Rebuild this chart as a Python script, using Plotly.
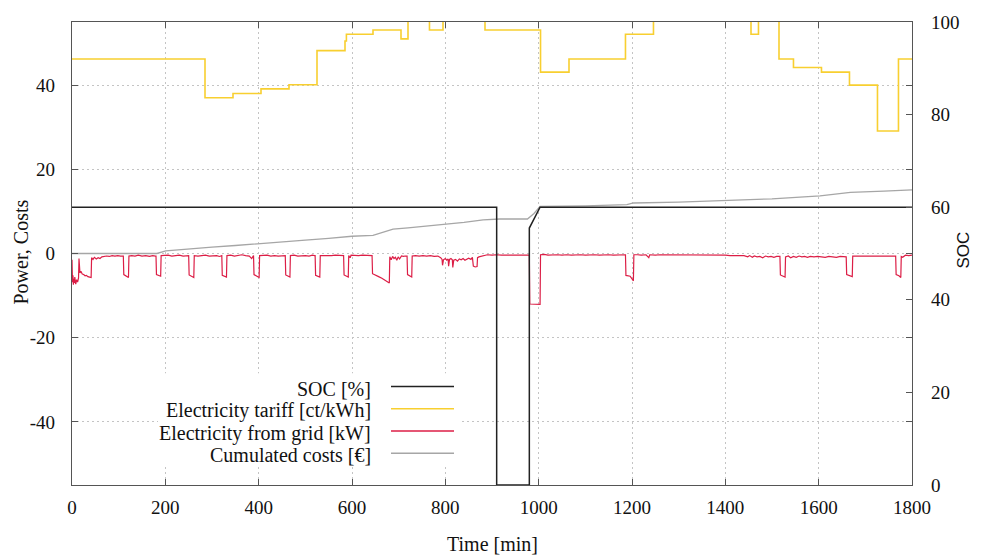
import plotly.graph_objects as go

# ---------------- data ----------------
# SOC [%] (right axis)
soc_x = [0, 910, 910, 980, 980, 1003, 1800]
soc_y = [60, 60, 0, 0, 55.5, 60, 60]

# Electricity tariff [ct/kWh] (step function, value holds until next x)
tariff_x = [0, 285, 345, 405, 465, 525, 585, 588, 645, 705, 720, 766, 795, 885,
            1004, 1065, 1186, 1246, 1455, 1471, 1515, 1546, 1606, 1666, 1726, 1771, 1800]
tariff_y = [46.2, 37.0, 38.0, 39.1, 40.1, 48.2, 50.5, 52.1, 53.1, 51.0, 58.0, 53.1, 58.0, 53.1,
            43.1, 46.2, 52.1, 58.0, 52.1, 58.0, 46.2, 44.2, 43.1, 40.0, 29.1, 46.2, 46.2]

# Electricity from grid [kW]
grid_x = [0, 1, 2, 3, 4, 5, 6, 8, 10, 12, 14, 15, 16, 17, 19, 22, 25, 28, 31, 34, 38, 41, 42,
          45, 48, 52, 56, 60, 64, 68, 74, 80, 86, 92, 98, 104, 109,
          110, 111, 116, 121, 122,
          128, 135, 142, 150, 158, 166, 173, 179,
          180, 181, 186, 190, 191,
          198, 206, 214, 222, 230, 238, 245, 249,
          250, 251, 256, 261, 262,
          270, 278, 286, 294, 302, 310, 316, 320,
          321, 322, 327, 331, 332,
          340, 348, 356, 364, 372, 380, 385, 388,
          389, 390, 396, 401, 402,
          410, 418, 426, 434, 442, 450, 456,
          457, 458, 463, 467, 468,
          476, 484, 492, 500, 508, 515, 520,
          521, 522, 527, 531, 532,
          540, 548, 556, 564, 572, 578, 581,
          582, 583, 588, 592, 593,
          596, 598, 606, 614, 622, 630, 638, 642,
          643, 644, 650, 657, 664, 670, 676, 680, 681,
          684, 687, 690, 693, 696, 699, 702, 706, 710, 714, 717,
          718, 719, 724, 728, 729,
          736, 744, 752, 760, 768, 776, 784, 790,
          793, 794, 796, 800, 803, 806, 807, 809, 812, 815, 816, 818, 822, 826, 830, 834, 838,
          842, 846, 850, 855, 858, 860, 864, 868, 869, 872, 876, 880,
          890, 900, 910, 920, 930, 940, 950, 960, 970, 980,
          981, 1003, 1004,
          1012, 1020, 1030, 1040, 1050, 1060, 1070, 1080, 1090, 1100, 1110, 1120, 1130, 1140,
          1150, 1160, 1170, 1180, 1186,
          1187, 1196, 1203, 1204,
          1212, 1220, 1230, 1236, 1238, 1250, 1260, 1270, 1280, 1290, 1300, 1310, 1320, 1330,
          1340, 1350, 1360, 1370, 1380, 1390, 1400, 1410, 1420, 1430, 1440, 1448, 1452, 1458,
          1462, 1468, 1474, 1480, 1486, 1492, 1498, 1504, 1510, 1517,
          1518, 1524, 1528, 1529,
          1535, 1540, 1546, 1552, 1558, 1564, 1570, 1576, 1582, 1590, 1598, 1606, 1614, 1622,
          1630, 1638, 1646, 1652, 1659,
          1660, 1666, 1672, 1673,
          1680, 1690, 1700, 1710, 1720, 1730, 1740, 1750, 1758, 1765,
          1766, 1772, 1776, 1777, 1780, 1786, 1793, 1800]
grid_y = [-1.5, -6.8, -5.2, -7.4, -6.0, -7.0, -5.6, -7.3, -6.2, -6.8, -5.8, -1.2, -3.8, -4.6, -4.2, -4.9, -5.0, -5.3, -5.2, -5.5, -5.6, -5.7, -1.0,
          -1.4, -0.9, -1.3, -1.0, -1.2, -0.8, -0.7, -0.6, -0.7, -0.5, -0.6, -0.5, -0.6, -0.5,
          -0.6, -5.0, -5.3, -5.7, -0.6,
          -0.5, -0.6, -0.4, -0.6, -0.5, -0.7, -0.5, -0.6,
          -0.6, -5.0, -5.2, -5.4, -0.5,
          -0.5, -0.4, -0.6, -0.5, -0.4, -0.6, -0.5, -0.5,
          -0.5, -5.1, -5.4, -5.7, -0.5,
          -0.6, -0.5, -0.4, -0.6, -0.5, -0.5, -0.7, -0.5,
          -0.5, -5.2, -5.5, -5.6, -0.5,
          -0.4, -0.6, -0.5, -0.3, -0.5, -0.6, -1.2, -0.5,
          -0.5, -5.0, -5.4, -5.7, -0.5,
          -0.5, -0.4, -0.6, -0.5, -0.6, -0.5, -0.5,
          -0.5, -5.1, -5.4, -5.6, -0.5,
          -0.4, -0.6, -0.5, -0.5, -0.6, -0.4, -0.5,
          -0.5, -5.2, -5.5, -5.6, -0.5,
          -0.5, -0.6, -0.5, -0.4, -0.5, -0.6, -0.5,
          -0.5, -5.1, -5.3, -5.6, -0.5,
          -1.0, -0.4, -0.5, -0.5, -0.4, -0.5, -0.5, -0.5,
          -0.5, -4.8, -5.2, -5.5, -5.9, -6.3, -6.6, -7.0, -0.8,
          -1.5, -0.7, -1.2, -0.9, -1.6, -0.8, -1.3, -0.6, -0.7, -0.6, -0.6,
          -0.6, -5.0, -5.3, -5.6, -0.6,
          -0.5, -0.6, -0.5, -0.6, -0.5, -0.7, -0.6, -1.0,
          -1.4, -2.8, -1.5, -1.2, -1.6, -1.3, -3.0, -1.4, -1.2, -1.5, -3.3, -1.6, -1.4, -1.8, -1.3, -1.5, -1.2,
          -1.6, -1.3, -1.1, -1.4, -0.9, -3.0, -3.2, -3.1, -1.0, -0.8, -0.7, -0.5,
          -0.3, -0.4, -0.3, -0.4, -0.4, -0.3, -0.4, -0.3, -0.4, -0.4,
          -12.0, -12.1, -0.3,
          -0.2, -0.4, -0.3, -0.3, -0.4, -0.3, -0.4, -0.3, -0.3, -0.4, -0.3, -0.3, -0.4, -0.3,
          -0.3, -0.4, -0.3, -0.3, -0.3,
          -5.2, -5.4, -6.5, -0.3,
          -0.3, -0.4, -0.3, -1.0, -0.3, -0.4, -0.3, -0.3, -0.4, -0.3, -0.3, -0.4, -0.3, -0.3,
          -0.4, -0.4, -0.3, -0.4, -0.4, -0.4, -0.4, -0.5, -0.5, -0.6, -0.5, -0.8, -0.5, -0.9,
          -0.6, -0.8, -0.7, -1.0, -0.6, -0.8, -0.7, -0.9, -0.7, -0.7,
          -5.1, -5.4, -5.6, -0.8,
          -0.6, -1.0, -0.7, -0.9, -0.6, -0.8, -0.7, -0.9, -0.7, -0.8, -0.7, -0.8, -0.9, -0.7,
          -0.8, -0.9, -0.7, -0.8, -0.8,
          -5.0, -5.3, -5.5, -0.6,
          -0.6, -0.5, -0.6, -0.6, -0.5, -0.6, -0.5, -0.6, -0.6, -0.6,
          -5.0, -5.3, -5.7, -0.7, -0.9, -0.4, -0.5, -0.4]

# Cumulated costs [€]
cost_x = [0, 182, 201, 250, 300, 350, 401, 450, 500, 550, 600, 645, 668, 688, 720, 760,
          800, 840, 881, 917, 976, 990, 1003, 1100, 1189, 1203, 1300, 1403, 1500, 1603,
          1668, 1740, 1800]
cost_y = [0, 0, 0.6, 1.1, 1.5, 1.9, 2.4, 2.8, 3.2, 3.6, 4.1, 4.3, 5.1, 5.8, 6.1, 6.5,
          6.9, 7.4, 8.0, 8.2, 8.2, 9.5, 11.2, 11.3, 11.6, 12.0, 12.2, 12.6, 13.0, 13.7,
          14.5, 14.8, 15.1]

x_ticks = [0, 200, 400, 600, 800, 1000, 1200, 1400, 1600, 1800]
x_tick_labels = ["0", "200", "400", "600", "800", "1000", "1200", "1400", "1600", "1800"]
y_ticks = [-40, -20, 0, 20, 40]
y_tick_labels = ["-40", "-20", "0", "20", "40"]
y2_ticks = [0, 20, 40, 60, 80, 100]
y2_tick_labels = ["0", "20", "40", "60", "80", "100"]

legend_labels = ["SOC [%]", "Electricity tariff [ct/kWh]",
                 "Electricity from grid [kW]", "Cumulated costs [€]"]

# ---------------- styles ----------------
C_SOC = "#222222"
C_TAR = "#f8cf30"
C_GRID = "#dc1e46"
C_COST = "#a6a6a6"
AX = "#555555"
SERIF = "Liberation Serif"
SANS = "Liberation Sans"

fig = go.Figure()
fig.add_trace(go.Scatter(x=cost_x, y=cost_y, mode="lines", line=dict(color=C_COST, width=1.3),
                         showlegend=False))
fig.add_trace(go.Scatter(x=grid_x, y=grid_y, mode="lines", line=dict(color=C_GRID, width=1.2),
                         showlegend=False))
fig.add_trace(go.Scatter(x=tariff_x, y=tariff_y, mode="lines",
                         line=dict(color=C_TAR, width=1.6, shape="hv"), showlegend=False))
fig.add_trace(go.Scatter(x=soc_x, y=soc_y, mode="lines", yaxis="y2",
                         line=dict(color=C_SOC, width=1.5), showlegend=False))

tickfont = dict(family=SERIF, size=19, color="#111111")
fig.update_layout(
    width=986, height=555,
    margin=dict(l=72, r=74, t=17, b=70),
    paper_bgcolor="white", plot_bgcolor="white",
    font=dict(family=SERIF, size=19, color="#111111"),
    xaxis=dict(range=[0, 1800], tickvals=x_ticks, ticktext=x_tick_labels, tickfont=tickfont,
               showgrid=True, gridcolor="#c4c4c4",
               griddash="2px,3px", gridwidth=1, zeroline=False, showline=True,
               linecolor=AX, linewidth=1.3, mirror="ticks", ticks="inside", ticklen=6,
               tickcolor=AX, ticklabelstandoff=5),
    yaxis=dict(range=[-55, 55], tickvals=y_ticks, ticktext=y_tick_labels, tickfont=tickfont,
               showgrid=True, gridcolor="#c4c4c4",
               griddash="2px,3px", gridwidth=1, zeroline=False, showline=True,
               linecolor=AX, linewidth=1.3, mirror="ticks", ticks="inside", ticklen=6,
               tickcolor=AX, ticklabelstandoff=12),
    yaxis2=dict(range=[0, 100], tickvals=y2_ticks, ticktext=y2_tick_labels, tickfont=tickfont,
                overlaying="y", side="right",
                showgrid=False, zeroline=False, showline=False, ticks="inside",
                ticklen=6, tickcolor=AX, ticklabelstandoff=18),
)

PW, PH, L, T = 840.0, 468.0, 72.0, 17.0


def px(xp):
    return (xp - L) / PW


def py(yp):
    return (T + PH - yp) / PH


anns = [
    dict(text="Power, Costs", x=px(21), y=py(250), textangle=-90,
         font=dict(family=SERIF, size=20, color="#111111")),
    dict(text="SOC", x=px(964), y=py(248), textangle=-90,
         font=dict(family=SANS, size=17, color="#111111")),
    dict(text="Time [min]", x=px(492), y=py(545), font=dict(family=SERIF, size=20, color="#111111")),
]
shapes = [dict(type="rect", xref="paper", yref="paper", x0=px(158), x1=px(462),
               y0=py(466), y1=py(372), fillcolor="white", line=dict(width=0), layer="above")]
leg_colors = [C_SOC, C_TAR, C_GRID, C_COST]
for i, (lab, col) in enumerate(zip(legend_labels, leg_colors)):
    ly = 385.5 + 22.5 * i
    anns.append(dict(text=lab, x=px(373), y=py(ly + 2), xanchor="right",
                     font=dict(family=SERIF, size=20, color="#111111")))
    shapes.append(dict(type="line", xref="paper", yref="paper", x0=px(391), x1=px(454),
                       y0=py(ly), y1=py(ly), line=dict(color=col, width=1.5), layer="above"))

for a in anns:
    a.setdefault("xanchor", "center")
    a.update(xref="paper", yref="paper", yanchor="middle", showarrow=False)

fig.update_layout(annotations=anns, shapes=shapes)
fig.write_html("out.html")
